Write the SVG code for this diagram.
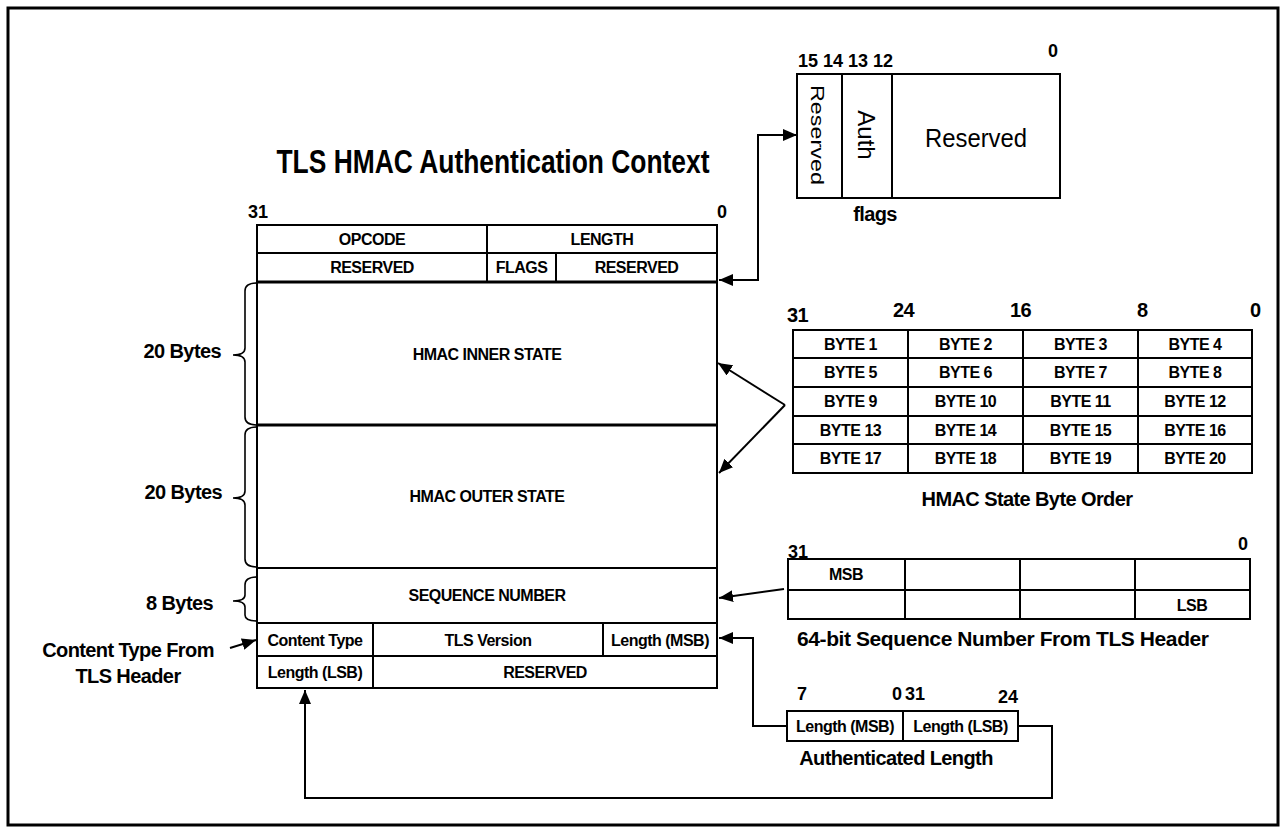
<svg xmlns="http://www.w3.org/2000/svg" width="1287" height="827" viewBox="0 0 1287 827">
<defs>
<style>
text{font-family:"Liberation Sans",Arial,sans-serif;fill:#000}
.c{text-anchor:middle}
.b16{font-weight:bold;font-size:16px;letter-spacing:-0.5px}
.b18{font-weight:bold;font-size:18px}
.b20{font-weight:bold;font-size:20px;letter-spacing:-0.6px}
.box{fill:#fff;stroke:#000;stroke-width:2}
.ln{fill:none;stroke:#000;stroke-width:2}
.thick{fill:none;stroke:#000;stroke-width:3}
.brace{fill:none;stroke:#000;stroke-width:1.6}
.con{fill:none;stroke:#000;stroke-width:2}
</style>
<marker id="ah" viewBox="0 0 14 12" refX="14" refY="6" markerWidth="14" markerHeight="12" markerUnits="userSpaceOnUse" orient="auto-start-reverse">
<path d="M0,0 L14,6 L0,12 z" fill="#000"/>
</marker>
</defs>
<rect x="0" y="0" width="1287" height="827" fill="#fff"/>
<rect id="frame" x="8" y="8" width="1270" height="817" fill="none" stroke="#000" stroke-width="3"/>

<g id="title">
<text x="493" y="173" class="c" font-size="33" font-weight="bold" textLength="433" lengthAdjust="spacingAndGlyphs">TLS HMAC Authentication Context</text>
</g>

<g id="context">
<rect class="box" x="257" y="225" width="460" height="463"/>
<line class="ln" x1="257" y1="253" x2="717" y2="253"/>
<line class="thick" x1="257" y1="282" x2="717" y2="282"/>
<line class="thick" x1="257" y1="425" x2="717" y2="425"/>
<line class="ln" x1="257" y1="568" x2="717" y2="568"/>
<line class="ln" x1="257" y1="623" x2="717" y2="623"/>
<line class="ln" x1="257" y1="656" x2="717" y2="656"/>
<line class="ln" x1="487" y1="225" x2="487" y2="282"/>
<line class="ln" x1="556" y1="253" x2="556" y2="282"/>
<line class="ln" x1="373" y1="623" x2="373" y2="688"/>
<line class="ln" x1="603" y1="623" x2="603" y2="656"/>
<text class="b18" x="248" y="218">31</text>
<text class="b18" x="717" y="218">0</text>
<text class="b16 c" x="372" y="245">OPCODE</text>
<text class="b16 c" x="602" y="245">LENGTH</text>
<text class="b16 c" x="372" y="273">RESERVED</text>
<text class="b16 c" x="521.5" y="273">FLAGS</text>
<text class="b16 c" x="636.5" y="273">RESERVED</text>
<text class="b16 c" x="487" y="360">HMAC INNER STATE</text>
<text class="b16 c" x="487" y="502">HMAC OUTER STATE</text>
<text class="b16 c" x="487" y="601">SEQUENCE NUMBER</text>
<text class="b16 c" x="315" y="646">Content Type</text>
<text class="b16 c" x="488" y="646">TLS Version</text>
<text class="b16 c" x="660" y="646">Length (MSB)</text>
<text class="b16 c" x="315" y="678">Length (LSB)</text>
<text class="b16 c" x="545" y="678">RESERVED</text>
</g>

<g id="sizes">
<path class="brace" d="M257,283 C249,283 245,285 245,291 L245,348 C245,352 241,355 233,355 C241,355 245,358 245,362 L245,417 C245,423 249,425 257,425"/>
<path class="brace" d="M257,427 C249,427 245,429 245,435 L245,491 C245,495 241,498 233,498 C241,498 245,501 245,505 L245,559 C245,565 249,567 257,567"/>
<path class="brace" d="M257,577 C249,577 245,579 245,585 L245,595 C245,599 241,601 233,601 C241,601 245,603 245,607 L245,615 C245,619 249,621 257,621"/>
<text class="b20" x="221" y="358" text-anchor="end">20 Bytes</text>
<text class="b20" x="222" y="499" text-anchor="end">20 Bytes</text>
<text class="b20" x="213" y="610" text-anchor="end">8 Bytes</text>
<text class="b20 c" x="128" y="657">Content Type From</text>
<text class="b20 c" x="128" y="683">TLS Header</text>
</g>

<g id="flags">
<rect class="box" x="797" y="74" width="263" height="124"/>
<line class="ln" x1="842" y1="74" x2="842" y2="198"/>
<line class="ln" x1="892" y1="74" x2="892" y2="198"/>
<text transform="translate(811,135) rotate(90)" class="c" font-size="19" textLength="100" lengthAdjust="spacingAndGlyphs">Reserved</text>
<text transform="translate(858,135) rotate(90)" class="c" font-size="24">Auth</text>
<text x="976" y="147" class="c" font-size="26" textLength="102" lengthAdjust="spacingAndGlyphs">Reserved</text>
<text class="b18" x="798" y="67">15 14 13 12</text>
<text class="b18" x="1048" y="57">0</text>
<text class="b20 c" x="875" y="221">flags</text>
</g>

<g id="byte-order">
<rect class="box" x="793" y="330" width="459" height="143"/>
<line class="ln" x1="908" y1="330" x2="908" y2="473"/>
<line class="ln" x1="1023" y1="330" x2="1023" y2="473"/>
<line class="ln" x1="1138" y1="330" x2="1138" y2="473"/>
<line class="ln" x1="793" y1="358" x2="1252" y2="358"/>
<line class="ln" x1="793" y1="387" x2="1252" y2="387"/>
<line class="ln" x1="793" y1="416" x2="1252" y2="416"/>
<line class="ln" x1="793" y1="444" x2="1252" y2="444"/>
<text class="b20" x="787" y="322">31</text>
<text class="b20" x="893" y="317">24</text>
<text class="b20" x="1010" y="317">16</text>
<text class="b20" x="1137" y="317">8</text>
<text class="b20" x="1250" y="317">0</text>
<text class="b16 c" x="850.5" y="350">BYTE 1</text>
<text class="b16 c" x="965.5" y="350">BYTE 2</text>
<text class="b16 c" x="1080.5" y="350">BYTE 3</text>
<text class="b16 c" x="1195" y="350">BYTE 4</text>
<text class="b16 c" x="850.5" y="378">BYTE 5</text>
<text class="b16 c" x="965.5" y="378">BYTE 6</text>
<text class="b16 c" x="1080.5" y="378">BYTE 7</text>
<text class="b16 c" x="1195" y="378">BYTE 8</text>
<text class="b16 c" x="850.5" y="407">BYTE 9</text>
<text class="b16 c" x="965.5" y="407">BYTE 10</text>
<text class="b16 c" x="1080.5" y="407">BYTE 11</text>
<text class="b16 c" x="1195" y="407">BYTE 12</text>
<text class="b16 c" x="850.5" y="436">BYTE 13</text>
<text class="b16 c" x="965.5" y="436">BYTE 14</text>
<text class="b16 c" x="1080.5" y="436">BYTE 15</text>
<text class="b16 c" x="1195" y="436">BYTE 16</text>
<text class="b16 c" x="850.5" y="464">BYTE 17</text>
<text class="b16 c" x="965.5" y="464">BYTE 18</text>
<text class="b16 c" x="1080.5" y="464">BYTE 19</text>
<text class="b16 c" x="1195" y="464">BYTE 20</text>
<text class="b20 c" x="1027" y="506">HMAC State Byte Order</text>
</g>

<g id="sequence">
<rect class="box" x="788" y="559" width="462" height="60"/>
<line class="ln" x1="788" y1="590" x2="1250" y2="590"/>
<line class="ln" x1="905" y1="559" x2="905" y2="619"/>
<line class="ln" x1="1020" y1="559" x2="1020" y2="619"/>
<line class="ln" x1="1135" y1="559" x2="1135" y2="619"/>
<text class="b18" x="788" y="558">31</text>
<text class="b18" x="1238" y="550">0</text>
<text class="b16 c" x="846" y="580">MSB</text>
<text class="b16 c" x="1192" y="611">LSB</text>
<text class="c" x="1003" y="646" font-size="21" font-weight="bold" textLength="412" lengthAdjust="spacing">64-bit Sequence Number From TLS Header</text>
</g>

<g id="auth-length">
<rect class="box" x="787" y="711" width="231" height="30"/>
<line class="ln" x1="903" y1="711" x2="903" y2="741"/>
<text class="b16 c" x="845" y="732">Length (MSB)</text>
<text class="b16 c" x="960.5" y="732">Length (LSB)</text>
<text class="b18" x="797" y="700">7</text>
<text class="b18" x="892" y="700">0</text>
<text class="b18" x="905" y="700">31</text>
<text class="b18" x="998" y="703">24</text>
<text class="b20 c" x="896" y="765">Authenticated Length</text>
</g>

<g id="connectors">
<path class="con" d="M719,280 L758,280 L758,135 L797,135" marker-start="url(#ah)" marker-end="url(#ah)"/>
<path class="con" d="M785,405 L718,363" marker-end="url(#ah)"/>
<path class="con" d="M785,405 L719,473" marker-end="url(#ah)"/>
<path class="con" d="M784,589 L719,598" marker-end="url(#ah)"/>
<path class="con" d="M787,726 L753,726 L753,638 L719,638" marker-end="url(#ah)"/>
<path class="con" d="M1018,726 L1052,726 L1052,798 L305,798 L305,690" marker-end="url(#ah)"/>
<path class="con" d="M230,648 L256,640" marker-end="url(#ah)"/>
</g>
</svg>
